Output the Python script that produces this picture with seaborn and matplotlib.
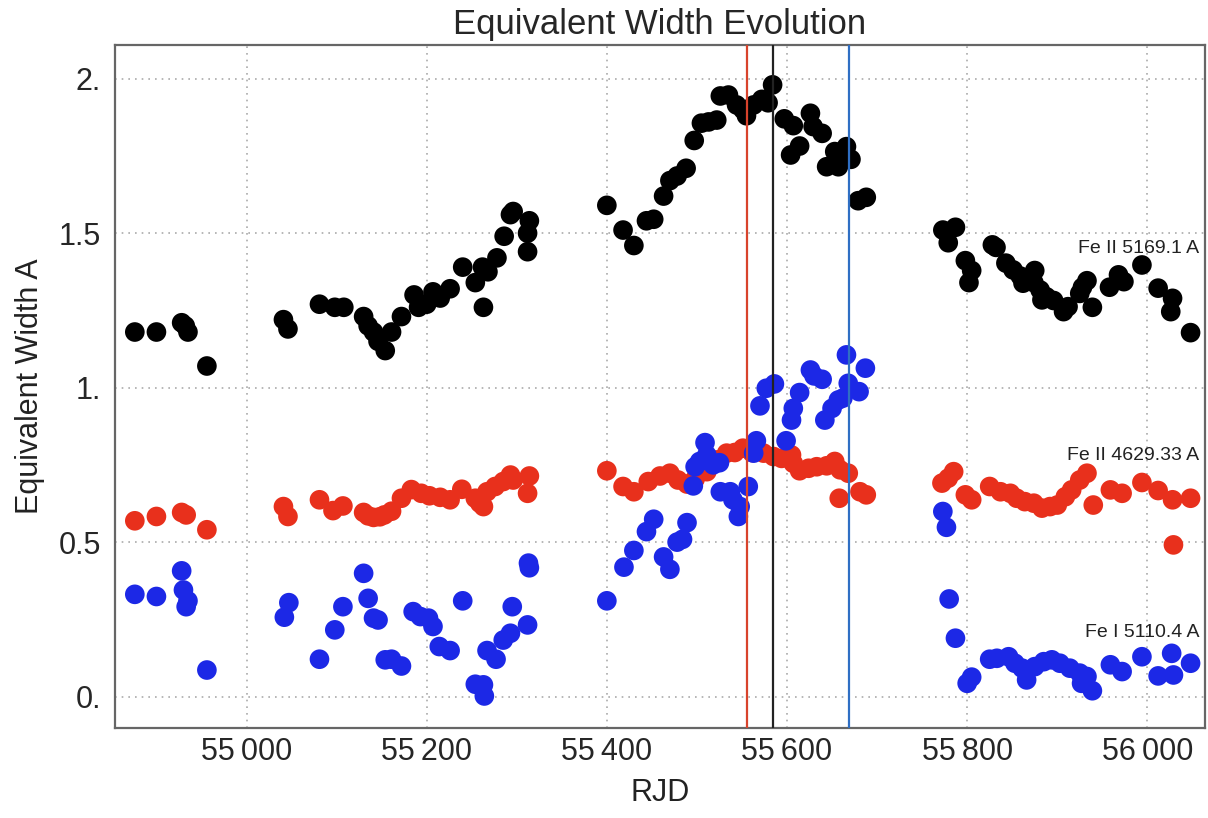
import numpy as np
import pandas as pd
import matplotlib
matplotlib.use("Agg")
import matplotlib.pyplot as plt
import seaborn as sns

# ---- data -------------------------------------------------------------
fe2_5169_x = [54876, 54900, 54928, 54932, 54935, 54956, 55041, 55046, 55081, 55098,
              55108, 55130, 55135, 55141, 55146, 55154, 55161, 55172, 55186, 55191,
              55200, 55207, 55215, 55226, 55240, 55254, 55263, 55262, 55268, 55278,
              55286, 55293, 55296, 55312, 55312, 55314,
              55400, 55418, 55430, 55444, 55452, 55463, 55470, 55478, 55488, 55497,
              55505, 55513, 55522, 55526, 55535, 55544, 55551, 55555, 55563, 55572,
              55579, 55584, 55597, 55604, 55607, 55614, 55626, 55629, 55639, 55644,
              55653, 55657, 55661, 55666, 55671, 55679, 55688,
              55773, 55779, 55787, 55798, 55805, 55802, 55828, 55832, 55843, 55851,
              55859, 55862, 55874, 55875, 55881, 55883, 55888, 55896, 55907, 55912,
              55925, 55928, 55933, 55939, 55958, 55968, 55974, 55994, 56012, 56026,
              56028, 56048]
fe2_5169_y = [1.18, 1.18, 1.21, 1.20, 1.18, 1.07, 1.22, 1.19, 1.27, 1.26,
              1.26, 1.23, 1.20, 1.18, 1.15, 1.12, 1.18, 1.23, 1.30, 1.26,
              1.27, 1.31, 1.29, 1.32, 1.39, 1.34, 1.26, 1.39, 1.375, 1.42,
              1.49, 1.56, 1.57, 1.50, 1.44, 1.54,
              1.59, 1.51, 1.46, 1.54, 1.545, 1.62, 1.67, 1.685, 1.71, 1.80,
              1.856, 1.86, 1.866, 1.944, 1.947, 1.915, 1.90, 1.88, 1.915, 1.933,
              1.922, 1.98, 1.87, 1.753, 1.848, 1.782, 1.888, 1.845, 1.823, 1.715,
              1.764, 1.715, 1.748, 1.78, 1.739, 1.605, 1.616,
              1.51, 1.469, 1.519, 1.411, 1.379, 1.34, 1.462, 1.454, 1.403, 1.381,
              1.361, 1.338, 1.34, 1.379, 1.316, 1.284, 1.294, 1.282, 1.246, 1.262,
              1.305, 1.325, 1.346, 1.26, 1.325, 1.365, 1.343, 1.397, 1.322, 1.246,
              1.289, 1.178]

fe2_4629_x = [54876, 54900, 54928, 54933, 54956, 55041, 55046, 55081, 55096, 55107,
              55130, 55135, 55141, 55148, 55153, 55161, 55172, 55183, 55194, 55203,
              55215, 55226, 55239, 55254, 55259, 55263, 55267, 55276, 55285, 55293,
              55296, 55312, 55314,
              55400, 55418, 55430, 55446, 55459, 55470, 55479, 55489, 55498, 55511,
              55522, 55533, 55542, 55551, 55561, 55574, 55585, 55594, 55605, 55607,
              55614, 55624, 55633, 55644, 55653, 55659, 55668, 55658, 55681, 55688,
              55772, 55779, 55785, 55798, 55805, 55825, 55837, 55848, 55855, 55864,
              55874, 55883, 55892, 55900, 55909, 55916, 55925, 55933, 55940, 55959,
              55972, 55994, 56012, 56028, 56029, 56048]
fe2_4629_y = [0.569, 0.583, 0.596, 0.588, 0.54, 0.615, 0.583, 0.637, 0.602, 0.617,
              0.596, 0.585, 0.58, 0.582, 0.588, 0.60, 0.642, 0.67, 0.658, 0.65,
              0.645, 0.637, 0.671, 0.642, 0.626, 0.615, 0.663, 0.68, 0.696, 0.717,
              0.701, 0.658, 0.714,
              0.731, 0.68, 0.663, 0.696, 0.714, 0.723, 0.701, 0.688, 0.704, 0.728,
              0.766, 0.788, 0.79, 0.804, 0.79, 0.788, 0.777, 0.771, 0.782, 0.755,
              0.731, 0.739, 0.744, 0.747, 0.761, 0.734, 0.723, 0.642, 0.663, 0.653,
              0.691, 0.707, 0.728, 0.653, 0.637, 0.68, 0.663, 0.658, 0.642, 0.631,
              0.626, 0.61, 0.615, 0.62, 0.647, 0.669, 0.701, 0.723, 0.62, 0.669,
              0.658, 0.693, 0.667, 0.637, 0.491, 0.642]

fe1_5110_x = [54876, 54900, 54928, 54930, 54935, 54933, 54956, 55042, 55047, 55081,
              55098, 55107, 55130, 55135, 55141, 55146, 55154, 55161, 55172, 55185,
              55193, 55202, 55207, 55214, 55226, 55240, 55254, 55263, 55264, 55267,
              55277, 55285, 55293, 55295, 55312, 55313, 55314,
              55400, 55419, 55430, 55444, 55452, 55463, 55470, 55478, 55484, 55489,
              55496, 55498, 55503, 55509, 55511, 55518, 55525, 55526, 55537, 55540,
              55548, 55546, 55557, 55563, 55566, 55570, 55577, 55586, 55599, 55605,
              55607, 55614, 55626, 55630, 55639, 55642, 55650, 55657, 55662, 55666,
              55668, 55680, 55687,
              55773, 55777, 55780, 55787, 55800, 55805, 55825, 55833, 55846, 55853,
              55861, 55866, 55875, 55885, 55894, 55903, 55914, 55925, 55933, 55927,
              55939, 55959, 55972, 55994, 56012, 56027, 56029, 56048]
fe1_5110_y = [0.331, 0.324, 0.407, 0.345, 0.31, 0.291, 0.086, 0.257, 0.304, 0.121,
              0.216, 0.291, 0.399, 0.318, 0.254, 0.248, 0.119, 0.121, 0.099, 0.275,
              0.259, 0.254, 0.227, 0.162, 0.149, 0.31, 0.04, 0.038, 0.002, 0.149,
              0.121, 0.183, 0.205, 0.291, 0.232, 0.432, 0.417,
              0.31, 0.419, 0.473, 0.534, 0.574, 0.452, 0.412, 0.50, 0.509, 0.563,
              0.682, 0.744, 0.761, 0.822, 0.782, 0.75, 0.757, 0.663, 0.663, 0.637,
              0.615, 0.583, 0.68, 0.788, 0.828, 0.941, 0.998, 1.012, 0.828, 0.895,
              0.933, 0.984, 1.057, 1.038, 1.027, 0.895, 0.933, 0.96, 0.966, 1.106,
              1.014, 0.987, 1.063,
              0.599, 0.548, 0.316, 0.189, 0.043, 0.063, 0.121, 0.124, 0.129, 0.108,
              0.092, 0.054, 0.097, 0.113, 0.119, 0.108, 0.092, 0.076, 0.065, 0.043,
              0.019, 0.103, 0.081, 0.129, 0.067, 0.14, 0.07, 0.108]

series_names = ["Fe II 5169.1 A", "Fe II 4629.33 A", "Fe I 5110.4 A"]
vline_x = [55556, 55584, 55669]
x_ticks = [55000, 55200, 55400, 55600, 55800, 56000]
y_ticks = [0.0, 0.5, 1.0, 1.5, 2.0]
y_tick_labels = ["0.", "0.5", "1.", "1.5", "2."]

# ---- build frame ------------------------------------------------------
df = pd.concat([
    pd.DataFrame({"RJD": fe2_5169_x, "EW": fe2_5169_y, "line": series_names[0]}),
    pd.DataFrame({"RJD": fe2_4629_x, "EW": fe2_4629_y, "line": series_names[1]}),
    pd.DataFrame({"RJD": fe1_5110_x, "EW": fe1_5110_y, "line": series_names[2]}),
], ignore_index=True)

sns.set_style("white")
plt.rcParams["font.family"] = ["Liberation Sans", "DejaVu Sans"]

palette = {series_names[0]: "#000000", series_names[1]: "#e8301c", series_names[2]: "#1c28e6"}

fig = plt.figure(figsize=(12.08, 8.18), dpi=100)
ax = fig.add_axes([0.0952, 0.1097, 0.9023, 0.8353])

sns.scatterplot(data=df, x="RJD", y="EW", hue="line", palette=palette,
                s=200, linewidth=0, legend=False, ax=ax, zorder=3)

vcolors = ["#d8432c", "#222222", "#2f6fc4"]
for xv, c in zip(vline_x, vcolors):
    ax.axvline(xv, color=c, lw=1.6, zorder=4)

ax.set_xlim(54854, 56064)
ax.set_ylim(-0.1025, 2.109)
ax.set_xticks(x_ticks)
ax.set_xticklabels([f"{t//1000}\u2009{t%1000:03d}" for t in x_ticks])
ax.set_yticks(y_ticks)
ax.set_yticklabels(y_tick_labels)

ax.grid(True, color="#aaaaaa", linestyle=(0, (1, 3)), lw=1.2)
ax.tick_params(axis="both", direction="in", length=12, width=1.5, color="#555555",
               labelsize=22, top=False, right=False)
ax.tick_params(axis="x", pad=6)
ax.tick_params(axis="y", pad=10)
for sp in ax.spines.values():
    sp.set_color("#666666")
    sp.set_linewidth(1.6)

ax.set_xlabel("RJD", fontsize=22, labelpad=8, color="#222222")
ax.set_ylabel("Equivalent Width A", fontsize=22, labelpad=10, color="#222222")
ax.set_title("Equivalent Width Evolution", fontsize=25, pad=8)

label_pos = [(56058, 1.45), (56058, 0.78), (56058, 0.207)]
for name, (lx, ly) in zip(series_names, label_pos):
    ax.text(lx, ly, name, ha="right", va="center", fontsize=14, color="#222222", zorder=5)

fig.savefig("out.png", dpi=100)
